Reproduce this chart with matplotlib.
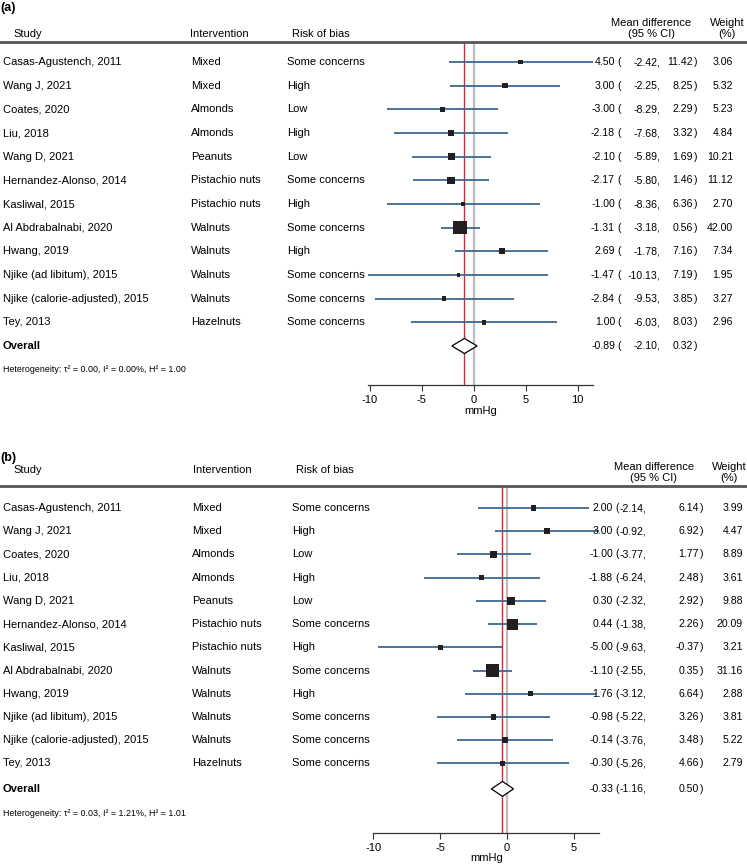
import matplotlib
matplotlib.use("Agg")
import matplotlib.pyplot as plt
from matplotlib import transforms
from matplotlib.lines import Line2D
import numpy as np

# ---------------- data ----------------
studies = ["Casas-Agustench, 2011", "Wang J, 2021", "Coates, 2020", "Liu, 2018",
           "Wang D, 2021", "Hernandez-Alonso, 2014", "Kasliwal, 2015",
           "Al Abdrabalnabi, 2020", "Hwang, 2019", "Njike (ad libitum), 2015",
           "Njike (calorie-adjusted), 2015", "Tey, 2013"]
interventions = ["Mixed", "Mixed", "Almonds", "Almonds", "Peanuts", "Pistachio nuts",
                 "Pistachio nuts", "Walnuts", "Walnuts", "Walnuts", "Walnuts", "Hazelnuts"]
risk_of_bias = ["Some concerns", "High", "Low", "High", "Low", "Some concerns", "High",
                "Some concerns", "High", "Some concerns", "Some concerns", "Some concerns"]

a_est = [4.50, 3.00, -3.00, -2.18, -2.10, -2.17, -1.00, -1.31, 2.69, -1.47, -2.84, 1.00]
a_lo = [-2.42, -2.25, -8.29, -7.68, -5.89, -5.80, -8.36, -3.18, -1.78, -10.13, -9.53, -6.03]
a_hi = [11.42, 8.25, 2.29, 3.32, 1.69, 1.46, 6.36, 0.56, 7.16, 7.19, 3.85, 8.03]
a_wt = [3.06, 5.32, 5.23, 4.84, 10.21, 11.12, 2.70, 42.00, 7.34, 1.95, 3.27, 2.96]
a_overall = [-0.89, -2.10, 0.32]
a_het = "Heterogeneity: \u03c4\u00b2 = 0.00, I\u00b2 = 0.00%, H\u00b2 = 1.00"

b_est = [2.00, 3.00, -1.00, -1.88, 0.30, 0.44, -5.00, -1.10, 1.76, -0.98, -0.14, -0.30]
b_lo = [-2.14, -0.92, -3.77, -6.24, -2.32, -1.38, -9.63, -2.55, -3.12, -5.22, -3.76, -5.26]
b_hi = [6.14, 6.92, 1.77, 2.48, 2.92, 2.26, -0.37, 0.35, 6.64, 3.26, 3.48, 4.66]
b_wt = [3.99, 4.47, 8.89, 3.61, 9.88, 20.09, 3.21, 31.16, 2.88, 3.81, 5.22, 2.79]
b_overall = [-0.33, -1.16, 0.50]
b_het = "Heterogeneity: \u03c4\u00b2 = 0.03, I\u00b2 = 1.21%, H\u00b2 = 1.01"

ticks_a = [-10, -5, 0, 5, 10]
ticks_b = [-10, -5, 0, 5]

# ---------------- style ----------------
W, H = 747, 867
FONT = "Liberation Sans"
plt.rcParams["font.family"] = [FONT, "DejaVu Sans"]
CI_COLOR = "#3d6891"
SQ_COLOR = "#231f20"
RED = "#d7263d"
GREY = "#bdbdbd"
FS = 8
NFS = 7.6

fig = plt.figure(figsize=(W / 100, H / 100), dpi=100)


def fx(px):
    return px / W


def fy(py):
    return 1 - py / H


def panel(label, label_y, est, lo, hi, wt, overall, het, xlim, ticks,
          left_px, right_px, top_px, bot_px, ylim, overall_row, het_row,
          cols, hdr_y1, hdr_y2, study_hdr_y, tpad, lpad):
    ax = fig.add_axes([fx(left_px), fy(bot_px), fx(right_px) - fx(left_px),
                       (bot_px - top_px) / H])
    ax.set_xlim(*xlim)
    ax.set_ylim(*ylim)
    for s in ["top", "right", "left"]:
        ax.spines[s].set_visible(False)
    ax.spines["bottom"].set_color("#333333")
    ax.spines["bottom"].set_linewidth(0.9)
    ax.set_yticks([])
    ax.set_xticks(ticks)
    ax.set_xticklabels([str(t) for t in ticks])
    ax.tick_params(axis="x", labelsize=FS, length=4, width=0.8, color="#333333", pad=tpad)
    ax.set_xlabel("mmHg", fontsize=FS, labelpad=lpad)
    ax.patch.set_alpha(0)

    rows = np.arange(1, len(est) + 1)
    ax.axvline(0, color=GREY, lw=1.6, zorder=1)
    ax.axvline(overall[0], color=RED, lw=1.0, zorder=2)
    ax.hlines(rows, lo, hi, color=CI_COLOR, lw=1.3, zorder=3)
    wt_arr = np.array(wt)
    side_px = 12.0 * np.sqrt(wt_arr / wt_arr.max()) + 1.2
    side_pt = side_px * 0.72
    ax.scatter(est, rows, marker="s", s=side_pt ** 2, color=SQ_COLOR, zorder=4,
               linewidths=0)
    dh = 0.32
    ax.fill([overall[1], overall[0], overall[2], overall[0]],
            [overall_row, overall_row - dh, overall_row, overall_row + dh],
            facecolor="white", edgecolor="black", lw=0.9, zorder=5)

    tr = transforms.blended_transform_factory(fig.transFigure, ax.transData)
    trh = transforms.blended_transform_factory(fig.transFigure, ax.transAxes)

    fig.add_artist(Line2D([fx(0), fx(W)], [1, 1], transform=trh, color="#555555", lw=2.0))
    fig.text(fx(0), fy(label_y), label, fontsize=9, fontweight="bold", va="center", ha="left")
    fig.text(fx(cols["study_h"]), fy(study_hdr_y), "Study", fontsize=FS, va="center")
    fig.text(fx(cols["int_h"]), fy(study_hdr_y), "Intervention", fontsize=FS, va="center")
    fig.text(fx(cols["rob_h"]), fy(study_hdr_y), "Risk of bias", fontsize=FS, va="center")
    fig.text(fx(cols["md_c"]), fy(hdr_y1), "Mean difference", fontsize=FS, ha="center", va="center")
    fig.text(fx(cols["md_c"]), fy(hdr_y2), "(95 % CI)", fontsize=FS, ha="center", va="center")
    fig.text(fx(cols["w_c"]), fy(hdr_y1), "Weight", fontsize=FS, ha="center", va="center")
    fig.text(fx(cols["w_c"]), fy(hdr_y2), "(%)", fontsize=FS, ha="center", va="center")

    def numrow(y, e, l, h, w=None):
        kw = dict(transform=tr, fontsize=NFS, va="center")
        ax.text(fx(cols["est_r"]), y, f"{e:.2f}", ha="right", **kw)
        ax.text(fx(cols["par_l"]), y, "(", ha="left", **kw)
        ax.text(fx(cols["lo_r"]), y, f"{l:.2f},", ha="right", **kw)
        ax.text(fx(cols["hi_r"]), y, f"{h:.2f}", ha="right", **kw)
        ax.text(fx(cols["hi_r"] + 0.5), y, ")", ha="left", **kw)
        if w is not None:
            ax.text(fx(cols["w_r"]), y, f"{w:.2f}", ha="right", **kw)

    for i, r in enumerate(rows):
        ax.text(fx(cols["study"]), r, studies[i], transform=tr, fontsize=FS, va="center")
        ax.text(fx(cols["int"]), r, interventions[i], transform=tr, fontsize=FS, va="center")
        ax.text(fx(cols["rob"]), r, risk_of_bias[i], transform=tr, fontsize=FS, va="center")
        numrow(r, est[i], lo[i], hi[i], wt[i])
    ax.text(fx(cols["study"]), overall_row, "Overall", transform=tr, fontsize=FS,
            fontweight="bold", va="center")
    numrow(overall_row, *overall)
    ax.text(fx(cols["study"]), het_row, het, transform=tr, fontsize=6.4, va="center")
    return ax


cols_a = dict(study=3, int=191, rob=287, study_h=13, int_h=190, rob_h=292,
              md_c=651, w_c=727, est_r=615, par_l=617, lo_r=660, hi_r=693, w_r=733)
cols_b = dict(study=3, int=192, rob=292, study_h=13, int_h=193, rob_h=296,
              md_c=654, w_c=729, est_r=613, par_l=615, lo_r=646, hi_r=699, w_r=743)

panel("(a)", 8, a_est, a_lo, a_hi, a_wt, a_overall, a_het,
      (min(a_lo), max(a_hi)), ticks_a,
      368.3, 592.5, 42, 385, (14.65, 0.15), 13.0, 14.0, cols_a, 23, 34, 34, 3, 1)
panel("(b)", 458, b_est, b_lo, b_hi, b_wt, b_overall, b_het,
      (-10, max(b_hi)), ticks_b,
      373.3, 599.3, 486, 833, (15.0, 0.05), 13.1, 14.15, cols_b, 467, 478, 470, 3.5, 0)

fig.savefig("out.png", dpi=100)
